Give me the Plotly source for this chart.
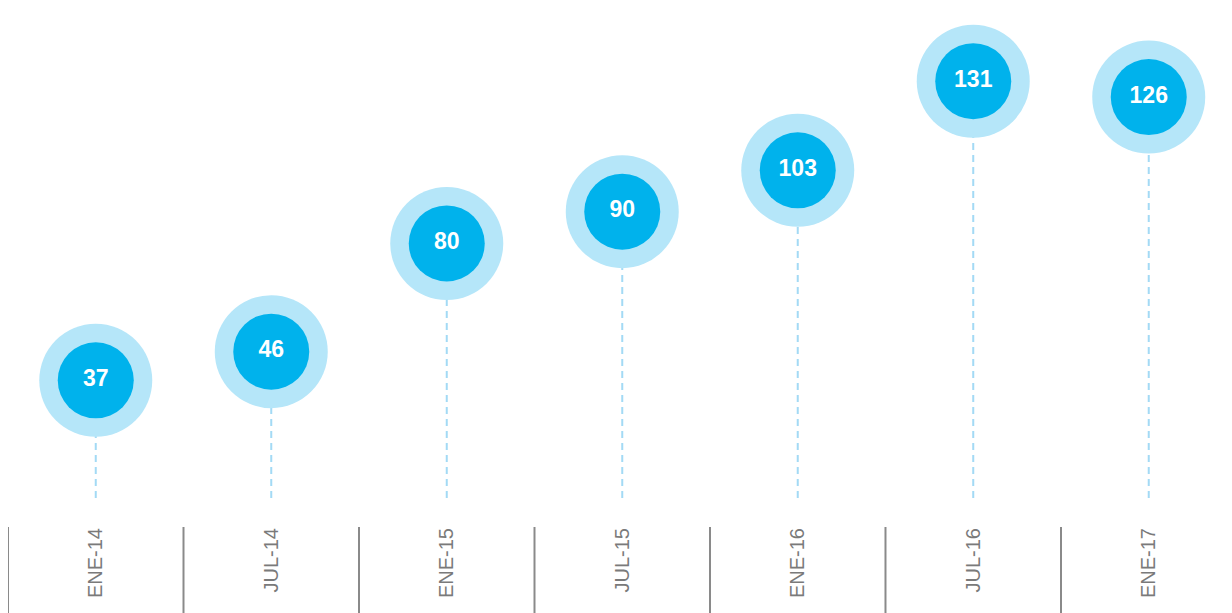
import plotly.graph_objects as go

categories = ["ENE-14", "JUL-14", "ENE-15", "JUL-15", "ENE-16", "JUL-16", "ENE-17"]
values = [37, 46, 80, 90, 103, 131, 126]

W, H = 1232, 613
plot_bottom_px = 490

fig = go.Figure()

# dashed stems from 0 to value
for i, v in enumerate(values):
    fig.add_trace(go.Scatter(
        x=[i, i], y=[0, v], mode="lines",
        line=dict(color="#a3daf5", width=2, dash="7px,5px"),
        hoverinfo="skip", showlegend=False, cliponaxis=False))

fig.add_trace(go.Scatter(
    x=list(range(len(values))), y=values, mode="markers",
    marker=dict(size=113, color="#b5e6f9", line=dict(width=0)),
    hoverinfo="skip", showlegend=False, cliponaxis=False))

fig.add_trace(go.Scatter(
    x=list(range(len(values))), y=values, mode="markers+text",
    marker=dict(size=76, color="#00b2ec", line=dict(width=0)),
    text=[str(v) for v in values], textposition="middle center",
    textfont=dict(family="Liberation Sans", size=23, color="white", weight="bold"),
    hoverinfo="skip", showlegend=False, cliponaxis=False))

# separators between categories, below the axis
sep_top = -(519 - plot_bottom_px) / plot_bottom_px
sep_bot = -(H - plot_bottom_px) / plot_bottom_px
for i in range(len(categories)):
    fig.add_shape(type="line", xref="x", yref="paper",
                  x0=i - 0.5, x1=i - 0.5, y0=sep_top, y1=sep_bot,
                  line=dict(color="#8a8a8a", width=2))

fig.update_layout(
    width=W, height=H,
    margin=dict(l=0, r=0, t=0, b=H - plot_bottom_px),
    paper_bgcolor="white", plot_bgcolor="white",
    xaxis=dict(range=[-0.5, 6.52], tickmode="array",
               tickvals=list(range(len(categories))), ticktext=categories,
               tickangle=-90, showgrid=False, zeroline=False, showline=False,
               ticks="", ticklabelstandoff=25,
               tickfont=dict(family="Liberation Sans", size=20, color="#7a7a7a")),
    yaxis=dict(range=[0, 154.0], visible=False, showgrid=False, zeroline=False),
)

fig.write_html("out.html")
